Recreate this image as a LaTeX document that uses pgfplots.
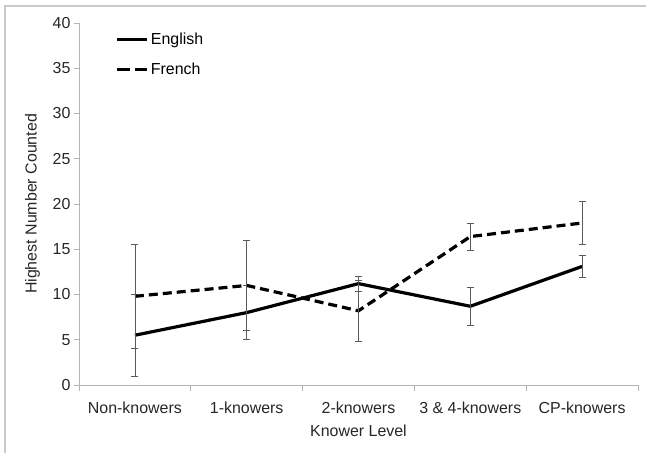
\documentclass[border=0pt]{standalone}
\usepackage{fontspec}
\setmainfont{Liberation Sans}
\usepackage{pgfplots}
\pgfplotsset{compat=1.18}
\definecolor{axisgray}{RGB}{180,180,180}
\definecolor{errgray}{RGB}{90,90,90}
\begin{document}
\begin{tikzpicture}
\useasboundingbox (0,0) rectangle (646bp,453bp);
\draw[axisgray!70, line width=1.2bp] (5bp,0) -- (5bp,447bp) -- (646bp,447bp);
\begin{axis}[
  at={(79bp,68bp)}, anchor=south west,
  scale only axis, width=559bp, height=362bp,
  xmin=-0.5, xmax=4.5, ymin=0, ymax=40,
  axis x line*=bottom, axis y line*=left,
  axis line style={axisgray, line width=0.8bp},
  xtick={0,1,2,3,4},
  xticklabels={Non-knowers, 1-knowers, 2-knowers, 3 \& 4-knowers, CP-knowers},
  minor xtick={-0.5,0.5,1.5,2.5,3.5,4.5},
  major x tick style={draw=none},
  minor x tick style={axisgray, line width=0.8bp},
  ytick={0,5,...,40},
  y tick style={axisgray, line width=0.8bp},
  tick align=outside, major tick length=5bp, minor tick length=6bp,
  font=\fontsize{16}{18}\selectfont,
  /pgf/number format/assume math mode=true,
  ticklabel style={black!85},
  xticklabel style={yshift=-8bp},
  xlabel={Knower Level}, ylabel={Highest Number Counted},
  xlabel style={black!85, yshift=-5bp},
  ylabel style={black!85, yshift=6bp},
  legend style={at={(0.06,0.985)}, anchor=north west, draw=none, fill=none,
    row sep=13bp, font=\fontsize{16}{18}\selectfont},
  legend cell align=left,
  legend image code/.code={\draw[#1] (0bp,0bp) -- (30bp,0bp);},
  error bars/y dir=both, error bars/y explicit,
  error bars/error bar style={solid, line width=0.7bp, errgray},
  error bars/error mark options={rotate=90, errgray, mark size=3.5bp, solid, line width=0.7bp},
]
% English
\addplot[black, line width=3.2bp, mark=none, forget plot] coordinates {
  (0,5.5) +- (0,4.5)
  (1,8.0) +- (0,3.0)
  (2,11.2) +- (0,0.8)
  (3,8.7) +- (0,2.1)
  (4,13.1) +- (0,1.2)
};
% French
\addplot[black, line width=3.2bp, mark=none, dash pattern=on 9bp off 5bp, forget plot] coordinates {
  (0,9.8) +- (0,5.7)
  (1,11.0) +- (0,5.0)
  (2,8.2) +- (0,3.4)
  (3,16.4) +- (0,1.5)
  (4,17.9) +- (0,2.4)
};
\addlegendimage{black, line width=3.2bp}
\addlegendentry{English}
\addlegendimage{black, line width=3.2bp, dash pattern=on 12.5bp off 5bp}
\addlegendentry{French}
\end{axis}
\end{tikzpicture}
\end{document}
